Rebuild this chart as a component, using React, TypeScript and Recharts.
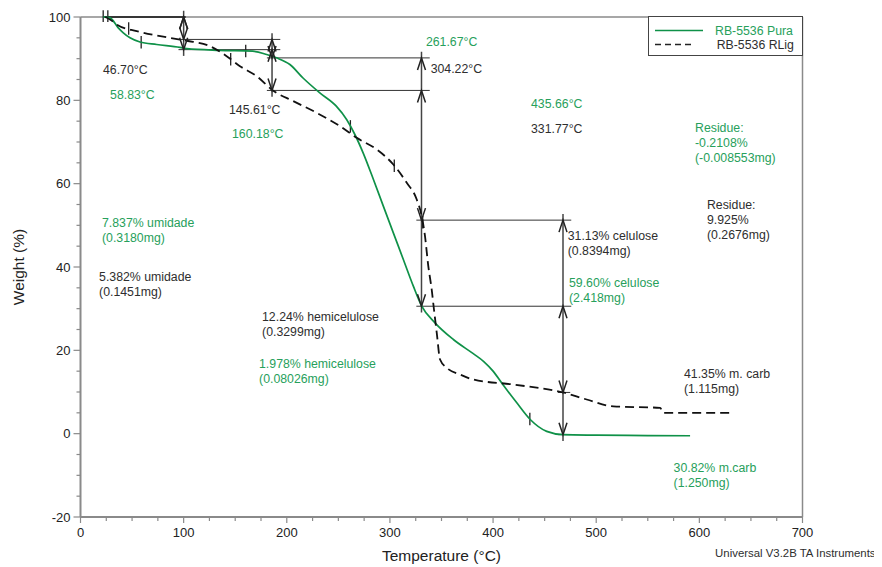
import React from 'react';
import { LineChart, Line, XAxis, YAxis, ReferenceLine, ReferenceDot, Legend } from 'recharts';

const FONT = '"Liberation Sans", Arial, Helvetica, sans-serif';
const PURA_COLOR = '#0f9148';
const PURA_TEXT = '#27a05b';
const RLIG_COLOR = '#111111';
const TEXT_DARK = '#2e2e2e';
const AXIS_GRAY = '#8a8a8a';
const MARK = '#333333';

// TGA curves: temperature (°C) and weight (%)
const puraTemp = [22, 28.6, 36.6, 41.5, 48, 57.7, 73.9, 96.5, 103, 135, 167, 180.5, 190, 203, 216, 232, 248, 258, 266, 274, 284, 293.6, 303.3, 313, 322.7, 330.8, 343.7, 361.5, 380.8, 391, 400, 410, 423, 436, 452, 468, 500, 550, 591];
const puraWeight = [100, 99.8, 97.4, 96.2, 95.0, 94.0, 93.4, 92.7, 92.4, 92.0, 91.8, 91.0, 90.2, 88.6, 85.3, 81.8, 78.6, 75.4, 71.8, 67.4, 61.0, 54.6, 48.2, 41.8, 35.4, 30.6, 26.6, 22.6, 19.2, 17.3, 15.0, 11.6, 7.4, 3.4, 0.55, -0.24, -0.35, -0.45, -0.5];

const rligTemp = [24, 28.6, 35.1, 54.5, 86.8, 103, 125.5, 141.7, 154.6, 170.8, 186.9, 206.3, 229, 251.6, 267.8, 287.2, 303.3, 316.3, 326, 330.8, 334, 337.2, 340.5, 342.7, 345.4, 348.6, 355.1, 368, 380.8, 419.6, 467.8, 490.8, 516.6, 562, 565, 630];
const rligWeight = [100, 99.4, 98.2, 96.6, 95.0, 94.3, 93.0, 90.6, 88.2, 85.8, 82.3, 79.8, 77.0, 73.8, 71.0, 68.2, 64.6, 60.2, 56.2, 52.2, 47.4, 40.2, 34.6, 29.8, 24.2, 17.8, 15.8, 14.2, 13.0, 11.8, 9.9, 8.2, 6.55, 6.2, 5.0, 5.0];

const puraData = puraTemp.map((t, i) => ({ t, w: puraWeight[i] }));
const rligData = rligTemp.map((t, i) => ({ t, w: rligWeight[i] }));

// Step analysis results
const startTemps = [22, 26.5];
const markerTemps = [100, 185.7, 330.6, 467.8];
const puraLoss = ['7.837', '1.978', '59.60', '30.82'];
const puraLossMg = ['0.3180', '0.08026', '2.418', '1.250'];
const puraStepNames = ['umidade', 'hemicelulose', 'celulose', 'm.carb'];
const rligLoss = ['5.382', '12.24', '31.13', '41.35'];
const rligLossMg = ['0.1451', '0.3299', '0.8394', '1.115'];
const rligStepNames = ['umidade', 'hemicelulose', 'celulose', 'm. carb'];
const puraResidue = { pct: '-0.2108', mg: '-0.008553' };
const rligResidue = { pct: '9.925', mg: '0.2676' };
const puraOnsets = [58.83, 160.18, 261.67, 435.66];
const rligOnsets = [46.7, 145.61, 304.22, 331.77];

// Axis ticks
const xTicks = [0, 25, 50, 75, 100, 125, 150, 175, 200, 225, 250, 275, 300, 325, 350, 375, 400, 425, 450, 475, 500, 525, 550, 575, 600, 625, 650, 675, 700];
const yTicks = [-20, -15, -10, -5, 0, 5, 10, 15, 20, 25, 30, 35, 40, 45, 50, 55, 60, 65, 70, 75, 80, 85, 90, 95, 100];

// Text anchors (temperature, weight) for the step annotations
const puraStepAnchors = [[20.8, 49.6], [173.1, 15.7], [473.6, 35.2], [575, -9.1]];
const rligStepAnchors = [[18, 36.6], [176, 27.0], [472.4, 46.6], [585.1, 13.3]];
const puraOnsetAnchors = [[28.7, 80.3], [146.9, 70.9], [334.9, 93.0], [436.8, 78.1]];
const rligOnsetAnchors = [[21.8, 86.3], [144, 76.7], [339.5, 86.5], [436.8, 72.1]];
const puraResidueAnchor = [595.8, 72.4];
const rligResidueAnchor = [607.4, 53.9];

const cumulative = (losses: string[]) => {
  const out = [100];
  losses.forEach((l) => out.push(out[out.length - 1] - parseFloat(l)));
  return out;
};
const puraLevels = cumulative(puraLoss);
const rligLevels = cumulative(rligLoss);

const interp = (ts: number[], ws: number[], t: number) => {
  for (let i = 1; i < ts.length; i++) {
    if (t <= ts[i]) {
      const f = (t - ts[i - 1]) / (ts[i] - ts[i - 1]);
      return ws[i - 1] + f * (ws[i] - ws[i - 1]);
    }
  }
  return ws[ws.length - 1];
};

const XTick = (props: any) => {
  const { x, y, payload } = props;
  const v = payload.value;
  const major = v % 100 === 0;
  return (
    <g>
      <line x1={x} x2={x} y1={y} y2={y + (major ? 6 : 4)} stroke={AXIS_GRAY} strokeWidth={1.2} />
      {major && (
        <text x={x} y={y + 20} textAnchor="middle" fontSize={13} fill="#222" fontFamily={FONT}>
          {v}
        </text>
      )}
    </g>
  );
};

const YTick = (props: any) => {
  const { x, y, payload } = props;
  const v = payload.value;
  const major = v % 20 === 0;
  return (
    <g>
      <line x1={x} x2={x - (major ? 7 : 4)} y1={y} y2={y} stroke={AXIS_GRAY} strokeWidth={1.2} />
      {major && (
        <text x={x - 10} y={y + 4.6} textAnchor="end" fontSize={13} fill="#222" fontFamily={FONT}>
          {v}
        </text>
      )}
    </g>
  );
};

const textShape = (lines: string[], color: string) => (p: any) => (
  <text x={p.cx} y={p.cy} fill={color} fontSize={12.3} fontFamily={FONT}>
    {lines.map((l, i) => (
      <tspan key={i} x={p.cx} dy={i === 0 ? 0 : 15}>
        {l}
      </tspan>
    ))}
  </text>
);

const chevron = (dir: 'up' | 'down') => (p: any) => {
  const s = dir === 'up' ? 1 : -1;
  return (
    <path
      d={`M${p.cx - 4},${p.cy + s * 12} L${p.cx},${p.cy} L${p.cx + 4},${p.cy + s * 12}`}
      fill="none"
      stroke="#222"
      strokeWidth={1.5}
    />
  );
};

const footnote = (p: any) => (
  <text x={p.cx + 73} y={p.cy + 40} textAnchor="end" fontSize={11.4} fill={TEXT_DARK} fontFamily={FONT}>
    Universal V3.2B TA Instruments
  </text>
);

const LegendBox = (props: any) => {
  const items = props.payload || [];
  return (
    <svg width={155} height={40} style={{ display: 'block' }}>
      <rect x={0.5} y={0.5} width={154} height={39} fill="#fff" stroke="#444" strokeWidth={1} />
      {items.map((it: any, i: number) => {
        const dashed = i === 1;
        const ly = 14.5 + i * 14;
        return (
          <g key={i}>
            <line
              x1={7}
              x2={dashed ? 45 : 55}
              y1={ly}
              y2={ly}
              stroke={dashed ? '#222' : PURA_COLOR}
              strokeWidth={1.3}
              strokeDasharray={dashed ? '6 4' : undefined}
            />
            <text x={dashed ? 68.7 : 67} y={ly + 4.4} fontSize={12.3} fill={dashed ? TEXT_DARK : PURA_TEXT} fontFamily={FONT}>
              {it.value}
            </text>
          </g>
        );
      })}
    </svg>
  );
};

export default function App() {
  const refs: React.ReactNode[] = [];

  // level lines for each step
  for (let k = 0; k <= markerTemps.length; k++) {
    const left = k === 0 ? startTemps[0] : markerTemps[k - 1] - 5;
    const right = k === 0 ? markerTemps[0] + 2 : k < markerTemps.length ? markerTemps[k] + 8 : markerTemps[k - 1] + 7;
    const levels = k === 0 ? [100] : [puraLevels[k], rligLevels[k]];
    levels.forEach((lv, j) =>
      refs.push(
        <ReferenceLine
          key={`lvl-${k}-${j}`}
          segment={[{ x: left, y: lv }, { x: right, y: lv }]}
          stroke={k === 0 ? '#111' : MARK}
          strokeWidth={k === 0 ? 1.6 : 1}
          ifOverflow="visible"
        />
      )
    );
  }

  // vertical step markers with arrows
  markerTemps.forEach((t, k) => {
    const segs = [
      [puraLevels[k], puraLevels[k + 1]],
      [rligLevels[k], rligLevels[k + 1]],
    ];
    const all = segs.flat();
    const top = Math.max(...all) + 1.5;
    const bottom = Math.min(...all) - 1.5;
    refs.push(
      <ReferenceLine
        key={`mk-${k}`}
        segment={[{ x: t, y: top }, { x: t, y: bottom }]}
        stroke="#444"
        strokeWidth={1.5}
        ifOverflow="visible"
      />
    );
    segs.forEach(([a, b], j) => {
      refs.push(<ReferenceDot key={`au-${k}-${j}`} x={t} y={a} r={0} shape={chevron('up')} ifOverflow="visible" />);
      refs.push(<ReferenceDot key={`ad-${k}-${j}`} x={t} y={b} r={0} shape={chevron('down')} ifOverflow="visible" />);
    });
  });

  // start ticks
  startTemps.forEach((t, i) =>
    refs.push(
      <ReferenceLine key={`st-${i}`} segment={[{ x: t, y: 101.6 }, { x: t, y: 98.8 }]} stroke="#222" strokeWidth={1.3} ifOverflow="visible" />
    )
  );

  // onset ticks on the curves
  puraOnsets.forEach((t, i) => {
    const w = interp(puraTemp, puraWeight, t);
    refs.push(
      <ReferenceLine key={`po-${i}`} segment={[{ x: t, y: w + 1.5 }, { x: t, y: w - 1.5 }]} stroke="#222" strokeWidth={1.3} ifOverflow="visible" />
    );
  });
  rligOnsets.forEach((t, i) => {
    const w = interp(rligTemp, rligWeight, t);
    refs.push(
      <ReferenceLine key={`ro-${i}`} segment={[{ x: t, y: w + 1.5 }, { x: t, y: w - 1.5 }]} stroke="#222" strokeWidth={1.3} ifOverflow="visible" />
    );
  });

  // annotation texts
  puraLoss.forEach((l, i) =>
    refs.push(
      <ReferenceDot
        key={`pt-${i}`}
        x={puraStepAnchors[i][0]}
        y={puraStepAnchors[i][1]}
        r={0}
        ifOverflow="visible"
        shape={textShape([`${l}% ${puraStepNames[i]}`, `(${puraLossMg[i]}mg)`], PURA_TEXT)}
      />
    )
  );
  rligLoss.forEach((l, i) =>
    refs.push(
      <ReferenceDot
        key={`rt-${i}`}
        x={rligStepAnchors[i][0]}
        y={rligStepAnchors[i][1]}
        r={0}
        ifOverflow="visible"
        shape={textShape([`${l}% ${rligStepNames[i]}`, `(${rligLossMg[i]}mg)`], TEXT_DARK)}
      />
    )
  );
  puraOnsets.forEach((t, i) =>
    refs.push(
      <ReferenceDot key={`pot-${i}`} x={puraOnsetAnchors[i][0]} y={puraOnsetAnchors[i][1]} r={0} ifOverflow="visible" shape={textShape([`${t.toFixed(2)}°C`], PURA_TEXT)} />
    )
  );
  rligOnsets.forEach((t, i) =>
    refs.push(
      <ReferenceDot key={`rot-${i}`} x={rligOnsetAnchors[i][0]} y={rligOnsetAnchors[i][1]} r={0} ifOverflow="visible" shape={textShape([`${t.toFixed(2)}°C`], TEXT_DARK)} />
    )
  );
  refs.push(
    <ReferenceDot key="pres" x={puraResidueAnchor[0]} y={puraResidueAnchor[1]} r={0} ifOverflow="visible" shape={textShape(['Residue:', `${puraResidue.pct}%`, `(${puraResidue.mg}mg)`], PURA_TEXT)} />
  );
  refs.push(
    <ReferenceDot key="rres" x={rligResidueAnchor[0]} y={rligResidueAnchor[1]} r={0} ifOverflow="visible" shape={textShape(['Residue:', `${rligResidue.pct}%`, `(${rligResidue.mg}mg)`], TEXT_DARK)} />
  );
  refs.push(<ReferenceDot key="foot" x={700} y={-20} r={0} ifOverflow="visible" shape={footnote} />);

  return (
    <div style={{ fontFamily: FONT }}>
      <LineChart width={874} height={559} margin={{ top: 9, right: 79.5, left: 0, bottom: 0 }}>
        <XAxis
          type="number"
          dataKey="t"
          domain={[0, 700]}
          ticks={xTicks}
          interval={0}
          tickSize={0}
          tickMargin={0}
          tickLine={false}
          height={50}
          axisLine={{ stroke: AXIS_GRAY, strokeWidth: 2 }}
          tick={<XTick />}
          label={{
            content: (p: any) => {
              const vb = p.viewBox || { x: 72.5, y: 509, width: 722 };
              return (
                <text x={vb.x + vb.width / 2} y={vb.y + 44} textAnchor="middle" fontSize={15.5} fill="#222" fontFamily={FONT}>
                  Temperature (°C)
                </text>
              );
            },
          }}
        />
        <YAxis
          type="number"
          dataKey="w"
          domain={[-20, 100]}
          ticks={yTicks}
          interval={0}
          tickSize={0}
          tickMargin={0}
          tickLine={false}
          width={72.5}
          axisLine={{ stroke: AXIS_GRAY, strokeWidth: 2 }}
          tick={<YTick />}
          label={{
            content: (p: any) => {
              const vb = p.viewBox || { x: 0, y: 9, height: 500 };
              const cx = vb.x + 15.5;
              const cy = vb.y + vb.height / 2;
              return (
                <text x={cx} y={cy} transform={`rotate(-90, ${cx}, ${cy})`} textAnchor="middle" fontSize={15.5} fill="#222" fontFamily={FONT}>
                  Weight (%)
                </text>
              );
            },
          }}
        />
        <ReferenceLine y={100} stroke={AXIS_GRAY} strokeWidth={1.5} />
        <ReferenceLine x={700} stroke={AXIS_GRAY} strokeWidth={1.5} />
        {refs}
        <Line
          data={puraData}
          dataKey="w"
          name="RB-5536 Pura"
          type="monotone"
          stroke={PURA_COLOR}
          strokeWidth={1.7}
          dot={false}
          activeDot={false}
          isAnimationActive={false}
        />
        <Line
          data={rligData}
          dataKey="w"
          name="RB-5536 RLig"
          type="monotone"
          stroke={RLIG_COLOR}
          strokeWidth={1.8}
          strokeDasharray="9 5"
          dot={false}
          activeDot={false}
          isAnimationActive={false}
        />
        <Legend
          layout="vertical"
          align="center"
          verticalAlign="middle"
          wrapperStyle={{ left: 640, top: 8, width: 155, height: 40 }}
          content={<LegendBox />}
        />
      </LineChart>
    </div>
  );
}
